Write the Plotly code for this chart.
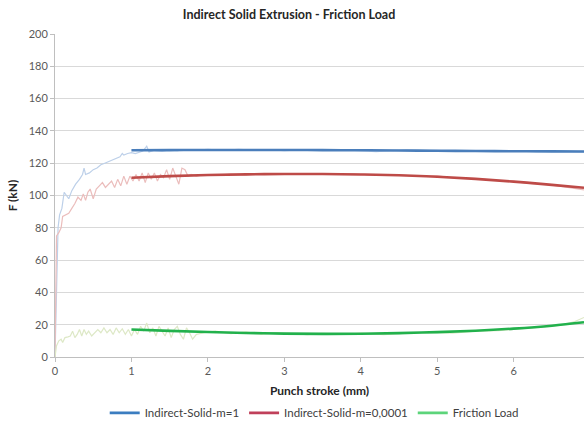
import plotly.graph_objects as go

# Measured load curves (raw signal) -- punch stroke in mm, force in kN
blue_x = [0, 0.02, 0.04, 0.06, 0.09, 0.12, 0.15, 0.18, 0.22, 0.27, 0.32, 0.36, 0.38, 0.40,
          0.45, 0.50, 0.55, 0.60, 0.65, 0.70, 0.75, 0.80, 0.85, 0.88, 0.90, 0.95, 1.00,
          1.05, 1.10, 1.15, 1.20, 1.23, 1.30, 1.40, 1.50, 1.60, 1.70, 1.80, 2.00, 2.20,
          2.40, 2.60, 2.80, 3.00, 3.20, 3.50, 3.80, 4.00, 4.20, 4.40, 4.60, 4.80, 5.00,
          5.20, 5.50, 5.80, 6.00, 6.30, 6.60, 6.92]
blue_y = [0, 40, 80, 88, 92, 102, 100, 98, 103, 107, 110, 113, 117, 113,
          114, 116, 117, 119, 120, 121, 122, 123, 124, 126, 125, 126, 126.5,
          126, 127, 127.5, 130.5, 127, 128, 127.5, 128.3, 127.8, 128.4, 127.9, 128.5, 128,
          128.6, 128.1, 128.4, 127.8, 128.3, 127.9, 128.2, 127.6, 127.2, 127.8, 128.2, 127.6, 127.9,
          127.4, 127.7, 127.3, 127.6, 127.1, 127.5, 127.0]

red_x = [0, 0.01, 0.02, 0.05, 0.08, 0.10, 0.14, 0.18, 0.22, 0.26, 0.30, 0.34, 0.37, 0.40,
         0.43, 0.46, 0.50, 0.54, 0.58, 0.62, 0.66, 0.70, 0.74, 0.78, 0.82, 0.86, 0.90,
         0.94, 0.98, 1.02, 1.06, 1.10, 1.14, 1.18, 1.22, 1.26, 1.30, 1.34, 1.38, 1.42,
         1.46, 1.50, 1.54, 1.58, 1.62, 1.66, 1.70, 1.74, 1.78, 1.85, 1.95, 2.1, 2.3, 2.5,
         2.7, 3.0, 3.3, 3.6, 3.9, 4.2, 4.5, 4.8, 5.0, 5.2, 5.5, 5.8, 6.0, 6.2, 6.4, 6.6,
         6.8, 6.92]
red_y = [0, 40, 75, 77, 80, 87, 88, 89, 92, 95, 99, 97, 101, 97,
         102, 104, 98, 104, 106, 108, 105, 107, 109, 105, 110, 106, 112,
         107, 112, 109, 113, 109, 114, 108, 114, 110, 114, 109, 113, 111,
         116, 110, 117, 112, 107, 117, 116, 112, 113, 112, 113, 112.5, 113.3, 112.8,
         113.5, 113, 113.6, 113, 113.4, 112.5, 112.7, 111.8, 112.2, 111, 110.5, 109.2, 108.8, 107.5, 107, 105.8,
         104.5, 103.5]

green_x = [0, 0.02, 0.05, 0.08, 0.10, 0.13, 0.17, 0.20, 0.23, 0.26, 0.29, 0.32, 0.35, 0.38,
           0.41, 0.44, 0.48, 0.52, 0.56, 0.60, 0.64, 0.68, 0.72, 0.76, 0.80, 0.84, 0.88,
           0.92, 0.96, 1.00, 1.04, 1.08, 1.12, 1.16, 1.20, 1.24, 1.28, 1.32, 1.36, 1.40,
           1.44, 1.48, 1.52, 1.56, 1.60, 1.64, 1.68, 1.72, 1.76, 1.80, 1.85, 1.95, 2.1, 2.3,
           2.5, 2.7, 2.9, 3.1, 3.3, 3.5, 3.8, 4.0, 4.3, 4.6, 4.9, 5.2, 5.5, 5.8, 6.0, 6.2,
           6.4, 6.6, 6.8, 6.92]
green_y = [0, 7, 10, 11, 9, 12, 12.5, 13, 16, 12, 14, 17, 13, 17,
           14, 16, 13, 15, 17, 15, 18, 15, 17, 14, 18, 15, 17.5,
           14, 17, 13, 17, 14, 19, 16, 21, 15, 18, 13, 19, 16,
           13, 18, 12, 17, 19, 14, 11, 18, 15, 11, 14, 15, 16, 14.5,
           15.5, 14, 15, 14.5, 13.8, 14.6, 14, 14.8, 13.8, 14.8, 15.3, 14.8, 16, 16.3, 17, 18,
           18.5, 19.5, 22, 24.5]

# Smoothed trend curves (from 1 mm onward)
trend_x = [1.0, 1.5, 2.0, 2.5, 3.0, 3.5, 4.0, 4.5, 5.0, 5.5, 6.0, 6.5, 6.92]
blue_trend = [128.0, 128.1, 128.2, 128.2, 128.2, 128.1, 128.0, 127.9, 127.7, 127.6, 127.4, 127.3, 127.2]
red_trend = [111.0, 112.0, 112.7, 113.1, 113.3, 113.3, 113.0, 112.5, 111.6, 110.3, 108.6, 106.6, 104.8]
green_trend = [17.0, 16.2, 15.5, 14.9, 14.5, 14.3, 14.4, 14.8, 15.4, 16.3, 17.6, 19.4, 21.5]

series_names = ["Indirect-Solid-m=1", "Indirect-Solid-m=0,0001", "Friction Load"]
y_ticks = [0, 20, 40, 60, 80, 100, 120, 140, 160, 180, 200]
x_ticks = [0, 1, 2, 3, 4, 5, 6]

FONT = "Lato"
fig = go.Figure()

raw_sets = [(blue_x, blue_y, "#BDD0E9"), (red_x, red_y, "#EBBDBC"), (green_x, green_y, "#DDE8C6")]
for xs, ys, col in raw_sets:
    fig.add_trace(go.Scatter(x=xs, y=ys, mode="lines", line=dict(color=col, width=1.2),
                             showlegend=False, hoverinfo="skip"))

trend_sets = [(blue_trend, "#4A7EBB"), (red_trend, "#BE4B48"), (green_trend, "#22B14C")]
legend_cols = ["#3B7DC0", "#C0405A", "#5CD47A"]
for (ys, col), name, lc in zip(trend_sets, series_names, legend_cols):
    fig.add_trace(go.Scatter(x=trend_x, y=ys, mode="lines", line=dict(color=col, width=2.6, shape="spline"),
                             showlegend=False))
    # legend entry
    fig.add_trace(go.Scatter(x=[None], y=[None], mode="lines", name=name,
                             line=dict(color=lc, width=2.6)))

fig.update_layout(
    width=584, height=423,
    margin=dict(l=55, r=0, t=34, b=66, autoexpand=False),
    paper_bgcolor="white", plot_bgcolor="white",
    font=dict(family=FONT, size=12, color="#595959"),
    title=dict(text="<b>Indirect Solid Extrusion - Friction Load</b>", x=0.495, xanchor="center",
               y=0.965, yanchor="middle", font=dict(family=FONT, size=12.5, color="#262626")),
    legend=dict(orientation="h", x=0.49, xanchor="center", yref="container", y=0.024,
                yanchor="middle", font=dict(family=FONT, size=11.5, color="#404040"), itemwidth=30,
                traceorder="normal"),
    xaxis=dict(range=[0, 6.92], tickvals=x_ticks, showgrid=False, showline=True,
               linecolor="#BFBFBF", linewidth=1, ticks="outside", ticklen=4, tickcolor="#BFBFBF",
               zeroline=False, automargin=False, tickfont=dict(size=11, color="#595959"),
               title=dict(text="<b>Punch stroke (mm)</b>", standoff=10,
                          font=dict(size=12, color="#262626"))),
    yaxis=dict(range=[0, 200], tickvals=y_ticks, showgrid=True, gridcolor="#D9D9D9",
               showline=True, linecolor="#BFBFBF", linewidth=1, ticks="outside", ticklen=4,
               tickcolor="#BFBFBF", zeroline=False, automargin=False,
               tickfont=dict(size=11, color="#595959"),
               title=dict(text="<b>F (kN)</b>", standoff=8, font=dict(size=12, color="#262626"))),
)

fig.write_html("out.html")
